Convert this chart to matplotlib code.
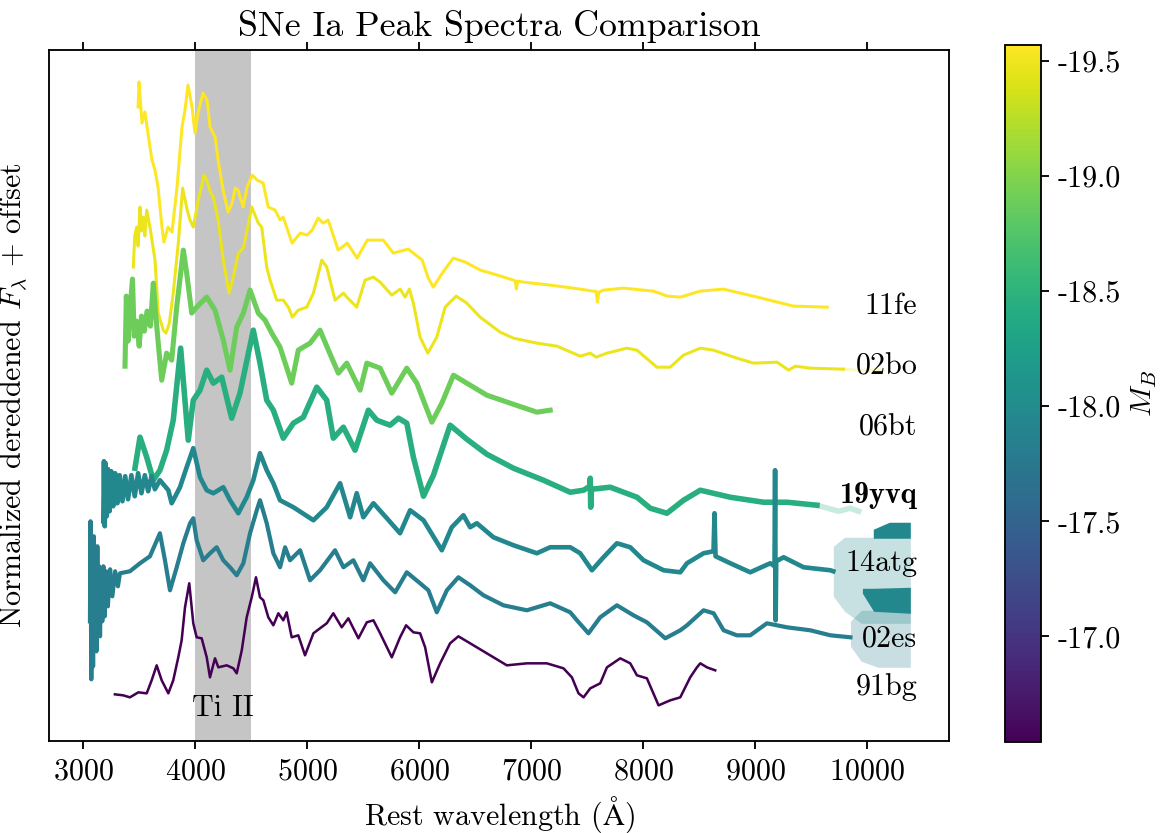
import numpy as np
import matplotlib
matplotlib.use("Agg")
import matplotlib.pyplot as plt
from matplotlib import cm, colors

plt.rcParams["font.family"] = "serif"
plt.rcParams["font.serif"] = ["cmr10"]
plt.rcParams["mathtext.fontset"] = "cm"
plt.rcParams["axes.unicode_minus"] = False
plt.rcParams["axes.formatter.use_mathtext"] = True

# (rest wavelength [A], normalized flux + offset)
spec_11fe = [(3490, 6.34), (3498, 6.59), (3525, 6.18), (3551, 6.29), (3596, 5.94), (3614, 5.81),
             (3641, 5.71), (3668, 5.54), (3703, 5.14), (3721, 4.99), (3757, 5.14), (3793, 5.09),
             (3838, 5.54), (3882, 6.14), (3909, 6.31), (3936, 6.56), (3972, 6.34), (3998, 6.08),
             (4025, 6.28), (4070, 6.48), (4106, 6.41), (4133, 6.14), (4178, 6.04), (4205, 5.81),
             (4249, 5.51), (4294, 5.29), (4330, 5.38), (4357, 5.53), (4383, 5.51), (4428, 5.34),
             (4464, 5.54), (4509, 5.66), (4553, 5.61), (4607, 5.58), (4652, 5.34), (4714, 5.31),
             (4759, 5.21), (4786, 5.24), (4866, 4.98), (4938, 5.08), (5000, 5.06), (5045, 5.11),
             (5098, 5.23), (5143, 5.18), (5188, 5.21), (5277, 4.91), (5358, 4.98), (5447, 4.83),
             (5537, 5.01), (5653, 5.01), (5680, 5.01), (5769, 4.88), (5903, 4.92), (6028, 4.81),
             (6082, 4.63), (6127, 4.54), (6207, 4.68), (6305, 4.83), (6413, 4.79), (6547, 4.71),
             (6699, 4.66), (6842, 4.61), (6860, 4.60), (6869, 4.52), (6880, 4.60), (6931, 4.59),
             (7173, 4.56), (7441, 4.52), (7548, 4.50), (7580, 4.50), (7593, 4.39), (7606, 4.49),
             (7646, 4.51), (7825, 4.53), (8093, 4.50), (8218, 4.45), (8334, 4.44), (8513, 4.50),
             (8718, 4.52), (9022, 4.44), (9344, 4.35), (9646, 4.34)]

spec_02bo = [(3447, 4.74), (3460, 5.05), (3477, 5.14), (3490, 4.95), (3507, 5.34), (3520, 5.10),
             (3536, 5.24), (3550, 5.05), (3567, 5.31), (3596, 5.14), (3641, 4.81), (3670, 4.28),
             (3715, 4.11), (3739, 4.08), (3769, 4.18), (3804, 4.48), (3849, 4.98), (3888, 5.53),
             (3929, 5.31), (3954, 5.21), (3983, 5.14), (4028, 5.41), (4079, 5.66), (4103, 5.61),
             (4139, 5.48), (4162, 5.44), (4206, 5.21), (4251, 4.81), (4302, 4.48), (4341, 4.64),
             (4385, 4.88), (4430, 4.93), (4469, 5.14), (4505, 5.34), (4564, 5.18), (4594, 5.14),
             (4639, 4.74), (4669, 4.61), (4728, 4.41), (4787, 4.41), (4832, 4.34), (4868, 4.24),
             (4921, 4.31), (4997, 4.34), (5056, 4.48), (5131, 4.81), (5175, 4.74), (5249, 4.41),
             (5324, 4.48), (5354, 4.44), (5443, 4.34), (5518, 4.61), (5592, 4.64), (5652, 4.59),
             (5756, 4.46), (5831, 4.52), (5875, 4.44), (5913, 4.52), (5949, 4.38), (6009, 4.04),
             (6078, 3.88), (6158, 4.04), (6233, 4.34), (6331, 4.45), (6426, 4.38), (6545, 4.24),
             (6724, 4.09), (6843, 4.03), (7052, 3.98), (7231, 3.95), (7439, 3.85), (7529, 3.88),
             (7582, 3.84), (7678, 3.88), (7856, 3.93), (7946, 3.91), (8124, 3.74), (8243, 3.74),
             (8362, 3.86), (8512, 3.93), (8630, 3.91), (8839, 3.83), (8988, 3.78), (9197, 3.79),
             (9301, 3.71), (9360, 3.75), (9494, 3.73), (9792, 3.72)]
tail_02bo = [(9792, 3.72), (9900, 3.71), (10000, 3.70), (10080, 3.72), (10147, 3.70)]

spec_06bt = [(3373, 3.75), (3385, 4.45), (3400, 4.00), (3420, 4.35), (3440, 4.62), (3455, 4.05),
             (3475, 4.20), (3500, 3.95), (3520, 4.25), (3545, 4.10), (3570, 4.30), (3600, 4.15),
             (3626, 4.58), (3645, 4.30), (3670, 3.98), (3701, 3.61), (3745, 3.88), (3790, 3.81),
             (3835, 4.34), (3894, 4.91), (3924, 4.68), (3969, 4.28), (4013, 4.34), (4103, 4.44),
             (4177, 4.31), (4251, 4.01), (4311, 3.71), (4371, 4.14), (4430, 4.28), (4490, 4.51),
             (4564, 4.28), (4624, 4.21), (4684, 4.08), (4758, 3.94), (4862, 3.58), (4921, 3.91),
             (5026, 3.98), (5115, 4.11), (5190, 3.91), (5279, 3.68), (5354, 3.78), (5473, 3.51),
             (5533, 3.78), (5652, 3.73), (5756, 3.48), (5890, 3.73), (5980, 3.58), (6114, 3.19),
             (6203, 3.38), (6307, 3.66), (6456, 3.56), (6605, 3.46), (6814, 3.38), (7052, 3.29),
             (7171, 3.31)]

spec_19yvq = [(3462, 2.73), (3507, 3.04), (3567, 2.84), (3626, 2.61), (3685, 2.71), (3745, 2.91),
              (3804, 3.21), (3870, 3.93), (3938, 3.01), (3983, 3.41), (4043, 3.51), (4103, 3.71),
              (4162, 3.58), (4237, 3.64), (4326, 3.23), (4400, 3.48), (4519, 4.11), (4579, 3.78),
              (4639, 3.41), (4698, 3.31), (4787, 3.03), (4877, 3.18), (4966, 3.24), (5086, 3.54),
              (5175, 3.41), (5234, 3.03), (5324, 3.14), (5428, 2.91), (5547, 3.31), (5622, 3.21),
              (5741, 3.16), (5815, 3.23), (5890, 3.18), (5949, 2.84), (6039, 2.45), (6128, 2.66),
              (6277, 3.16), (6426, 3.02), (6605, 2.87), (6843, 2.73), (7111, 2.61), (7350, 2.49),
              (7469, 2.51), (7525, 2.55), (7529, 2.63), (7533, 2.34), (7540, 2.52), (7708, 2.54),
              (7946, 2.44), (8065, 2.33), (8214, 2.28), (8362, 2.41), (8512, 2.51), (8780, 2.44),
              (9077, 2.39), (9286, 2.39), (9554, 2.36)]
tail_19yvq = [(9554, 2.36), (9650, 2.33), (9750, 2.30), (9850, 2.33), (9926, 2.30)]

spec_14atg = [(3179, 2.20), (3185, 2.80), (3192, 2.15), (3200, 2.78), (3210, 2.25), (3222, 2.72),
              (3235, 2.30), (3250, 2.70), (3268, 2.35), (3285, 2.68), (3305, 2.38), (3325, 2.66),
              (3350, 2.40), (3375, 2.65), (3400, 2.42), (3430, 2.66), (3460, 2.45), (3490, 2.68),
              (3520, 2.48), (3550, 2.66), (3580, 2.50), (3610, 2.65), (3640, 2.52),
              (3685, 2.61), (3760, 2.51), (3790, 2.38), (3864, 2.54), (3924, 2.74), (3983, 2.93),
              (4043, 2.64), (4103, 2.51), (4162, 2.48), (4251, 2.54), (4311, 2.41), (4385, 2.28),
              (4460, 2.44), (4519, 2.61), (4579, 2.88), (4639, 2.71), (4698, 2.58), (4758, 2.41),
              (4877, 2.34), (5056, 2.21), (5175, 2.34), (5294, 2.58), (5384, 2.24), (5443, 2.48),
              (5502, 2.24), (5592, 2.38), (5712, 2.23), (5830, 2.08), (5920, 2.31), (6039, 2.21),
              (6203, 1.91), (6292, 2.14), (6396, 2.26), (6456, 2.14), (6516, 2.18), (6664, 2.04),
              (6843, 1.96), (7052, 1.88), (7171, 1.94), (7350, 1.94), (7439, 1.88), (7544, 1.71),
              (7647, 1.84), (7767, 1.98), (7886, 1.94), (8005, 1.81), (8184, 1.71), (8333, 1.69),
              (8393, 1.78), (8541, 1.88), (8630, 1.90), (8639, 2.28), (8648, 1.85), (8780, 1.78),
              (8958, 1.69), (9137, 1.78), (9175, 1.75), (9180, 2.71), (9185, 1.21), (9190, 1.80),
              (9256, 1.84), (9435, 1.74), (9674, 1.71), (9700, 1.70)]
# noisy red tail of 14atg: (wavelength, lower, upper)
tail_14atg = [(9700, 1.45, 1.95), (9800, 1.30, 2.04), (9950, 1.18, 2.04), (10388, 1.18, 2.04)]
tail_14atg_top = [(10057, 2.03, 2.12), (10200, 2.03, 2.19), (10388, 2.03, 2.19)]
tail_14atg_low = [(9960, 1.48, 1.53), (10060, 1.30, 1.53), (10388, 1.28, 1.54)]

spec_02es = [(3060, 1.20), (3065, 2.20), (3072, 0.62), (3080, 1.90), (3088, 0.75), (3095, 2.05),
             (3103, 1.00), (3110, 1.85), (3118, 0.90), (3126, 1.95), (3135, 1.10), (3142, 1.75),
             (3150, 1.05), (3160, 1.70), (3170, 1.20), (3180, 1.75), (3192, 1.25), (3205, 1.70),
             (3220, 1.35), (3240, 1.72), (3260, 1.45), (3285, 1.70), (3310, 1.55), (3328, 1.68),
             (3417, 1.70), (3507, 1.78), (3596, 1.85), (3685, 2.08), (3730, 1.81), (3775, 1.51),
             (3835, 1.74), (3894, 1.98), (3954, 2.18), (3983, 2.23), (4013, 2.01), (4072, 1.81),
             (4133, 1.88), (4192, 1.94), (4251, 1.81), (4311, 1.74), (4371, 1.66), (4430, 1.78),
             (4490, 2.08), (4550, 2.31), (4579, 2.41), (4639, 2.18), (4698, 1.88), (4758, 1.74),
             (4803, 1.94), (4847, 1.81), (4937, 1.91), (5026, 1.61), (5115, 1.71), (5249, 1.91),
             (5324, 1.74), (5413, 1.81), (5502, 1.61), (5562, 1.78), (5681, 1.61), (5786, 1.49),
             (5890, 1.69), (6009, 1.58), (6083, 1.51), (6158, 1.29), (6248, 1.51), (6351, 1.64),
             (6456, 1.56), (6575, 1.46), (6753, 1.36), (6963, 1.31), (7171, 1.38), (7350, 1.29),
             (7410, 1.21), (7513, 1.08), (7618, 1.24), (7767, 1.36), (7915, 1.26), (8035, 1.19),
             (8199, 1.03), (8333, 1.11), (8393, 1.16), (8541, 1.31), (8631, 1.28), (8720, 1.11),
             (8839, 1.06), (8958, 1.06), (9107, 1.18), (9286, 1.14), (9495, 1.11), (9674, 1.06),
             (9853, 1.04)]
tail_02es = [(9853, 0.95, 1.20), (9950, 0.80, 1.31), (10100, 0.74, 1.31), (10388, 0.74, 1.31)]

spec_91bg = [(3283, 0.47), (3357, 0.46), (3417, 0.44), (3492, 0.49), (3567, 0.48), (3611, 0.61),
             (3656, 0.76), (3701, 0.61), (3760, 0.48), (3804, 0.61), (3849, 0.84), (3879, 1.01),
             (3909, 1.34), (3947, 1.58), (3983, 1.18), (4013, 1.04), (4058, 1.03), (4103, 0.84),
             (4132, 0.64), (4177, 0.83), (4207, 0.74), (4282, 0.76), (4341, 0.73), (4371, 0.68),
             (4416, 0.91), (4460, 1.24), (4505, 1.44), (4543, 1.64), (4579, 1.44), (4609, 1.41),
             (4653, 1.24), (4698, 1.16), (4743, 1.28), (4787, 1.21), (4817, 1.29), (4862, 1.04),
             (4921, 1.06), (4981, 0.86), (5056, 1.08), (5115, 1.13), (5175, 1.18), (5234, 1.28),
             (5309, 1.14), (5368, 1.23), (5458, 1.03), (5533, 1.19), (5592, 1.21), (5652, 1.08),
             (5756, 0.84), (5830, 1.04), (5884, 1.16), (5949, 1.09), (6009, 1.08), (6054, 0.94),
             (6114, 0.59), (6188, 0.78), (6277, 0.98), (6351, 1.05), (6456, 0.98), (6605, 0.88),
             (6784, 0.76), (6963, 0.78), (7141, 0.78), (7290, 0.73), (7365, 0.64), (7424, 0.48),
             (7469, 0.44), (7529, 0.53), (7618, 0.58), (7678, 0.74), (7797, 0.83), (7886, 0.78),
             (7946, 0.66), (8035, 0.63), (8139, 0.36), (8243, 0.41), (8333, 0.44), (8422, 0.64),
             (8482, 0.74), (8512, 0.78), (8571, 0.74), (8645, 0.71)]

names = ["11fe", "02bo", "06bt", "19yvq", "14atg", "02es", "91bg"]
abs_mag = [-19.57, -19.48, -18.89, -18.45, -17.95, -17.82, -16.54]
label_y = [4.35, 3.74, 3.13, 2.46, 1.78, 1.03, 0.54]
spectra = [spec_11fe, spec_02bo, spec_06bt, spec_19yvq, spec_14atg, spec_02es, spec_91bg]
widths = [1.3, 1.3, 2.2, 2.4, 2.0, 1.8, 1.1]
cbar_ticks = [-19.5, -19.0, -18.5, -18.0, -17.5, -17.0]

fig = plt.figure(figsize=(7, 5), dpi=166.6)
ax = fig.add_axes([0.042, 0.110, 0.772, 0.830])
cax = fig.add_axes([0.862, 0.109, 0.031, 0.837])

cmap = plt.get_cmap("viridis_r")
norm = colors.Normalize(vmin=min(abs_mag), vmax=max(abs_mag))
col = {n: cmap(norm(m)) for n, m in zip(names, abs_mag)}

ax.axvspan(4000, 4500, color="gray", alpha=0.45, lw=0)

for n, spec, lw in zip(names, spectra, widths):
    w, f = np.array(spec).T
    ax.plot(w, f, color=col[n], lw=lw)

# noisy red ends, partly faded
for n, band, a in [("14atg", tail_14atg, 0.25), ("02es", tail_02es, 0.25),
                   ("14atg", tail_14atg_top, 1.0), ("14atg", tail_14atg_low, 1.0)]:
    w, lo, hi = np.array(band).T
    ax.fill_between(w, lo, hi, color=col[n], alpha=a, lw=0)

for n, tail, lw in [("02bo", tail_02bo, 1.3), ("19yvq", tail_19yvq, 2.4)]:
    w, f = np.array(tail).T
    ax.plot(w, f, color=col[n], lw=lw, alpha=0.25)

for n, y in zip(names, label_y):
    fam = "cmb10" if n == "19yvq" else "cmr10"
    ax.text(10450, y, n, ha="right", va="center", fontsize=13, family=fam)

ax.text(4250, 0.33, "Ti II", ha="center", va="center", fontsize=13)

ax.set_xlim(2694, 10736)
ax.set_ylim(0, 6.91)
ax.set_yticks([])
ax.set_xticks(np.arange(3000, 10001, 1000))
ax.tick_params(axis="x", top=True, direction="out", labelsize=13)
ax.set_xlabel(r"Rest wavelength ($\mathrm{\AA}$)", fontsize=13)
ax.set_ylabel(r"Normalized dereddened $F_\lambda$ + offset", fontsize=13, labelpad=8)
ax.set_title("SNe Ia Peak Spectra Comparison", fontsize=15.5)

sm = cm.ScalarMappable(norm=norm, cmap=cmap)
cb = fig.colorbar(sm, cax=cax)
cb.set_ticks(cbar_ticks)
cb.set_ticklabels(["%.1f" % t for t in cbar_ticks])
cax.invert_yaxis()
cax.tick_params(labelsize=13)
cb.set_label(r"$M_B$", fontsize=13)

fig.savefig("out.png", dpi=166.6)
